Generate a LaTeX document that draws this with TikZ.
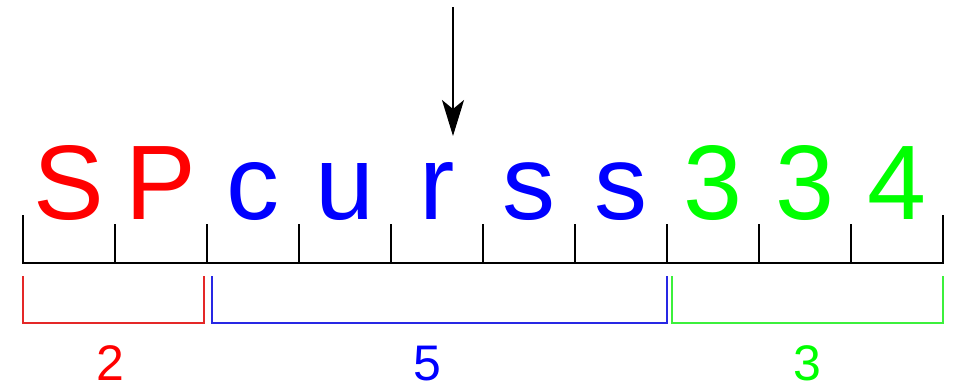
\documentclass[tikz,border=0pt]{standalone}
\usepackage{fontspec}
\setmainfont{Liberation Sans}
\usetikzlibrary{arrows.meta}
\definecolor{tred}{RGB}{255,0,0}
\definecolor{tblue}{RGB}{0,0,255}
\definecolor{tgreen}{RGB}{0,255,0}
\definecolor{bred}{RGB}{228,40,40}
\definecolor{bblue}{RGB}{40,40,228}
\definecolor{bgreen}{RGB}{60,240,60}
\begin{document}
\begin{tikzpicture}[x=1pt,y=-1pt,
  cell/.style={anchor=base,inner sep=0pt,font=\fontsize{106}{110}\selectfont},
  lab/.style={anchor=base,inner sep=0pt,font=\fontsize{50}{54}\selectfont},
  tape/.style={line width=2pt,black},
  brk/.style={line width=2pt},
  pointer/.style={line width=2pt,-{Stealth[length=36pt,width=22pt,inset=9pt]}}]
\useasboundingbox (0,0) rectangle (954,388);
% letters
\node[cell,text=tred] (c0) at (69,219) {S};
\node[cell,text=tred] (c1) at (161,219) {P};
\node[cell,text=tblue] (c2) at (253,219) {c};
\node[cell,text=tblue] (c3) at (345,219) {u};
\node[cell,text=tblue] (c4) at (437,219) {r};
\node[cell,text=tblue] (c5) at (529,219) {s};
\node[cell,text=tblue] (c6) at (621,219) {s};
\node[cell,text=tgreen] (c7) at (713,219) {3};
\node[cell,text=tgreen] (c8) at (805,219) {3};
\node[cell,text=tgreen] (c9) at (897,219) {4};
% tape
\coordinate (L) at (23,263);
\coordinate (R) at (943,263);
\draw[tape] (23,215) -- (L) -- (R) -- (943,215);
\foreach \i in {1,...,9}{
  \coordinate (t\i) at (23+92*\i,263);
  \draw[tape] (t\i) -- ++(0,-39);
}
% brackets
\coordinate (r1) at (23,276); \coordinate (r2) at (204,276);
\coordinate (b1) at (212,276); \coordinate (b2) at (667,276);
\coordinate (g1) at (672,276); \coordinate (g2) at (943,276);
\draw[brk,bred] (r1) -- ++(0,47) -| (r2);
\draw[brk,bblue] (b1) -- ++(0,47) -| (b2);
\draw[brk,bgreen] (g1) -- ++(0,47) -| (g2);
\node[lab,text=tred] (n2) at (110,380) {2};
\node[lab,text=tblue] (n5) at (427,380) {5};
\node[lab,text=tgreen] (n3) at (807,380) {3};
% head
\coordinate (h0) at (453,7);
\coordinate (h1) at (453,136);
\draw[pointer] (h0) -- (h1);
\end{tikzpicture}
\end{document}
